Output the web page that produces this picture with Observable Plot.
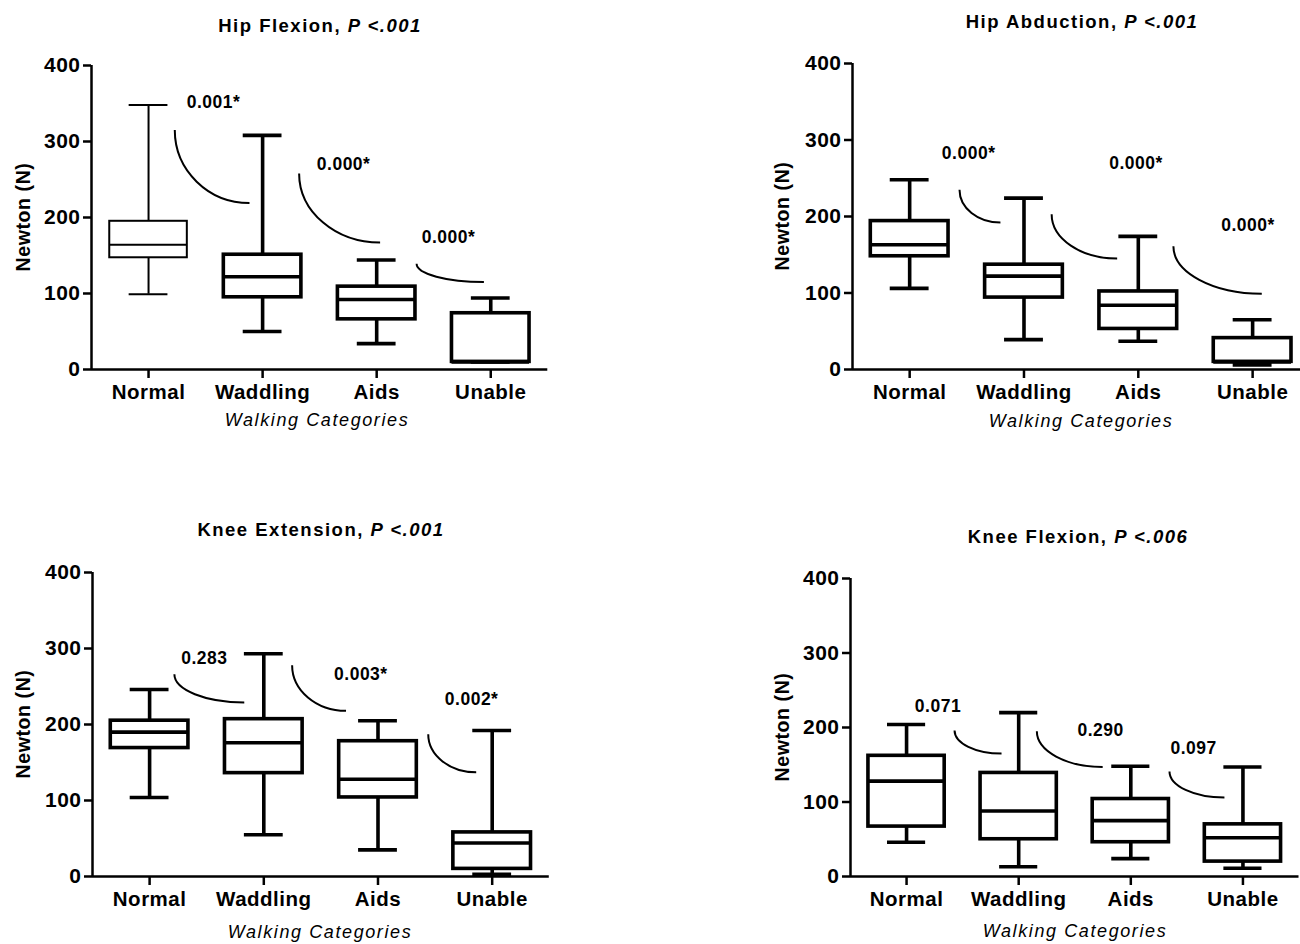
<!DOCTYPE html>
<html><head><meta charset="utf-8">
<script src="https://cdn.jsdelivr.net/npm/d3@7"></script>
<script src="https://cdn.jsdelivr.net/npm/@observablehq/plot@0.6"></script>
<style>
html,body{margin:0;padding:0;background:#fff;overflow:hidden;}
#fig{position:relative;width:1300px;height:944px;overflow:hidden;background:#fff;font-family:"Liberation Sans",Arial,sans-serif;color:#000;}
.lbl{position:absolute;white-space:nowrap;transform:translate(-50%,-50%);line-height:1;}
.title{font-weight:bold;font-size:18.5px;letter-spacing:1.5px;}
.title i{font-style:italic;}
.xl{font-style:italic;font-size:18px;letter-spacing:1.6px;}
.yl{font-weight:bold;font-size:19.5px;letter-spacing:0.6px;transform:translate(-50%,-50%) rotate(-90deg);}
.panel{position:absolute;}
.panel svg{max-width:none !important;}
</style></head><body><div id="fig"></div>
<script>
// ---------- data ----------
const categories = ["Normal", "Waddling", "Aids", "Unable"];
const yTicks = [0, 100, 200, 300, 400];
const panelTitles = ["Hip Flexion, ", "Hip Abduction, ", "Knee Extension, ", "Knee Flexion, "];
const overallP = ["P <.001", "P <.001", "P <.001", "P <.006"];
const yLabel = "Newton (N)";
const xLabel = "Walking Categories";

// [max, q3, median, q1, min] for each category
const hipFlexion    = [[348, 195, 164, 147, 99], [308, 151, 122, 95, 50], [144, 109, 92, 66, 34], [94, 74, 10, 10, 10]];
const hipAbduction  = [[248, 194, 163, 148, 106], [224, 137, 122, 94, 39], [174, 102, 84, 53, 37], [65, 41, 10, 10, 6]];
const kneeExtension = [[246, 205, 190, 169, 104], [293, 207, 176, 136, 55], [205, 178, 128, 104, 35], [192, 58, 44, 10, 3]];
const kneeFlexion   = [[204, 162, 128, 67, 46], [220, 139, 88, 50, 13], [148, 104, 75, 46, 24], [147, 70, 52, 20, 11]];

// pairwise comparison p-values
const hipFlexionP    = ["0.001*", "0.000*", "0.000*"];
const hipAbductionP  = ["0.000*", "0.000*", "0.000*"];
const kneeExtensionP = ["0.283", "0.003*", "0.002*"];
const kneeFlexionP   = ["0.071", "0.290", "0.097"];

// annotation arcs: [x1, y1, x2, y2] in category-index / Newton units
const hipFlexionArcs    = [[0.23, 315, 0.885, 219], [1.32, 258, 2.03, 167], [2.35, 139, 2.94, 115]];
const hipAbductionArcs  = [[0.436, 235, 0.794, 192], [1.242, 203, 1.815, 145], [2.307, 161, 3.08, 99]];
const kneeExtensionArcs = [[0.217, 266, 0.829, 229], [1.248, 278, 1.72, 218], [2.44, 187, 2.86, 137]];
const kneeFlexionArcs   = [[0.428, 196, 0.847, 165], [1.162, 195, 1.749, 147], [2.345, 141, 2.835, 106]];
// annotation label anchors: [x, y]
const hipFlexionLabelAt    = [[0.57, 352], [1.71, 270], [2.63, 174]];
const hipAbductionLabelAt  = [[0.516, 282], [1.98, 269], [2.96, 189]];
const kneeExtensionLabelAt = [[0.48, 287], [1.85, 266], [2.82, 233]];
const kneeFlexionLabelAt   = [[0.28, 228], [1.73, 196], [2.56, 172]];

// ---------- layout (page pixels) ----------
const layout = [
  {axisX: 90.7, xEnd: 547, y400: 65, y0: 369, title: [320, 26], xl: [317, 420], yl: [24, 217]},
  {axisX: 851.7, xEnd: 1309, y400: 63, y0: 369, title: [1082, 22], xl: [1081, 421], yl: [783, 216]},
  {axisX: 91.7, xEnd: 548.5, y400: 572, y0: 876, title: [321, 530], xl: [320, 932], yl: [24, 724]},
  {axisX: 850, xEnd: 1298.5, y400: 578, y0: 876, title: [1078, 537], xl: [1075, 931], yl: [783, 727]}
];

const panels = [
  [hipFlexion, hipFlexionP, hipFlexionArcs, hipFlexionLabelAt],
  [hipAbduction, hipAbductionP, hipAbductionArcs, hipAbductionLabelAt],
  [kneeExtension, kneeExtensionP, kneeExtensionArcs, kneeExtensionLabelAt],
  [kneeFlexion, kneeFlexionP, kneeFlexionArcs, kneeFlexionLabelAt]
];

// quarter-ellipse curve: starts vertical, ends horizontal
function quarterArc(context) {
  let p = [];
  return {
    areaStart() {}, areaEnd() {},
    lineStart() { p = []; },
    point(x, y) { p.push([+x, +y]); },
    lineEnd() {
      if (p.length < 2) return;
      const a = p[0], b = p[p.length - 1];
      const k = 0.5523;
      context.moveTo(a[0], a[1]);
      context.bezierCurveTo(a[0], a[1] + k * (b[1] - a[1]), b[0] - k * (b[0] - a[0]), b[1], b[0], b[1]);
    }
  };
}

const fig = document.getElementById("fig");
const boxHalf = 0.34, capHalf = 0.17;

panels.forEach(([rows, pv, arcs, labelAt], k) => {
  const L = layout[k];
  const data = rows.map((r, i) => ({i, max: r[0], q3: r[1], med: r[2], q1: r[3], min: r[4]}));
  const arcData = arcs.map(a => ({x1: a[0], y1: a[1], x2: a[2], y2: a[3]}));
  const labData = labelAt.map((a, j) => ({x: a[0], y: a[1], t: pv[j]}));
  const ml = 90, mr = 15, mt = 20, mb = 50;
  const left = L.axisX - ml, top = L.y400 - mt;
  const width = L.xEnd - L.axisX + ml + mr;
  const height = L.y0 - L.y400 + mt + mb;
  const sw = d => (k === 0 && d.i === 0) ? 2 : 3.6;

  const chart = Plot.plot({
    width, height,
    marginLeft: ml, marginRight: mr, marginTop: mt, marginBottom: mb,
    x: {domain: [-0.5, 3.5]},
    y: {domain: [0, 400]},
    style: {fontFamily: "'Liberation Sans', Arial, sans-serif", fontSize: "21px", fontWeight: "bold", background: "transparent", overflow: "visible", letterSpacing: "0.5px", maxWidth: "none"},
    marks: [
      Plot.ruleX(data, {x: "i", y1: "q3", y2: "max", strokeWidth: sw, stroke: "black"}),
      Plot.ruleX(data, {x: "i", y1: "min", y2: "q1", strokeWidth: sw, stroke: "black"}),
      Plot.ruleY(data, {y: "max", x1: d => d.i - capHalf, x2: d => d.i + capHalf, strokeWidth: sw, stroke: "black"}),
      Plot.ruleY(data, {y: "min", x1: d => d.i - capHalf, x2: d => d.i + capHalf, strokeWidth: sw, stroke: "black"}),
      Plot.rect(data, {x1: d => d.i - boxHalf, x2: d => d.i + boxHalf, y1: "q1", y2: "q3", fill: "white", stroke: "black", strokeWidth: sw}),
      Plot.ruleY(data, {y: "med", x1: d => d.i - boxHalf, x2: d => d.i + boxHalf, strokeWidth: sw, stroke: "black"}),
      Plot.link(arcData, {x1: "x1", y1: "y1", x2: "x2", y2: "y2", curve: quarterArc, stroke: "black", strokeWidth: 2}),
      Plot.text(labData, {x: "x", y: "y", text: "t", fontSize: 17.5, fontWeight: "bold", fill: "black"}),
      Plot.ruleX([-0.5], {y1: 0, y2: 400, strokeWidth: 2.5, stroke: "black"}),
      Plot.ruleY([0], {x1: -0.5, x2: 3.5, strokeWidth: 2.5, stroke: "black"}),
      Plot.axisY({ticks: yTicks, tickSize: 8, tickPadding: 3, strokeWidth: 2.5, label: null, fontSize: 21}),
      Plot.axisX({ticks: [0, 1, 2, 3], tickFormat: i => categories[i], tickSize: 9, tickPadding: 6, strokeWidth: 2.5, label: null, fontSize: 20.5})
    ]
  });
  chart.style.maxWidth = "none";
  const wrap = document.createElement("div");
  wrap.className = "panel";
  wrap.style.left = left + "px";
  wrap.style.top = top + "px";
  wrap.style.width = width + "px";
  wrap.appendChild(chart);
  fig.appendChild(wrap);

  const t = document.createElement("div");
  t.className = "lbl title";
  t.style.left = L.title[0] + "px"; t.style.top = L.title[1] + "px";
  t.append(panelTitles[k]);
  const it = document.createElement("i"); it.textContent = overallP[k]; t.appendChild(it);
  fig.appendChild(t);

  const xl = document.createElement("div");
  xl.className = "lbl xl";
  xl.style.left = L.xl[0] + "px"; xl.style.top = L.xl[1] + "px";
  xl.textContent = xLabel;
  fig.appendChild(xl);

  const yl = document.createElement("div");
  yl.className = "lbl yl";
  yl.style.left = L.yl[0] + "px"; yl.style.top = L.yl[1] + "px";
  yl.textContent = yLabel;
  fig.appendChild(yl);
});
</script></body></html>
